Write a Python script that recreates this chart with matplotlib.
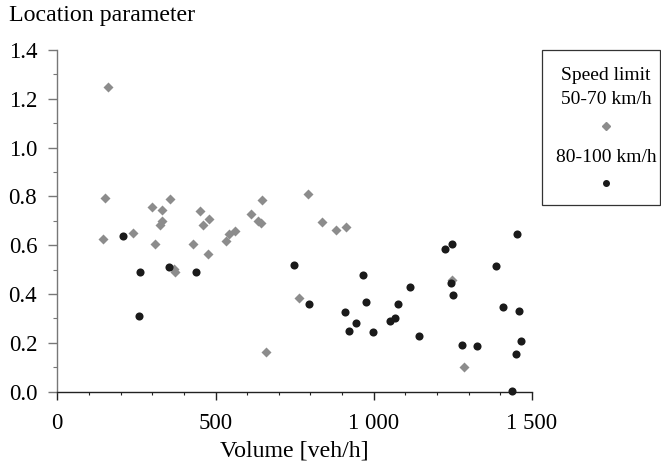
import matplotlib
matplotlib.use("Agg")
import matplotlib.pyplot as plt
from matplotlib.patches import Rectangle
from matplotlib.lines import Line2D
from matplotlib.ticker import MultipleLocator, FixedLocator

plt.rcParams['font.family'] = ['Liberation Serif', 'DejaVu Serif']

# Speed limit 50-70 km/h
vol_50_70 = [160, 150, 143, 238, 298, 310, 324, 330, 332, 356, 368, 371, 428, 450,
             459, 476, 479, 533, 542, 561, 612, 635, 645, 648, 661, 763, 793, 835,
             882, 913, 1247, 1286]
loc_50_70 = [1.25, 0.795, 0.627, 0.652, 0.758, 0.605, 0.683, 0.70, 0.745, 0.791,
             0.503, 0.491, 0.604, 0.739, 0.682, 0.563, 0.708, 0.619, 0.646, 0.66,
             0.730, 0.698, 0.690, 0.784, 0.161, 0.383, 0.809, 0.697, 0.663, 0.675,
             0.458, 0.10]

# Speed limit 80-100 km/h
vol_80_100 = [208, 257, 262, 353, 439, 747, 794, 909, 923, 943, 966, 977, 998, 1053,
              1066, 1076, 1116, 1143, 1226, 1243, 1247, 1252, 1279, 1325, 1387, 1408,
              1437, 1449, 1454, 1459, 1465]
loc_80_100 = [0.638, 0.310, 0.491, 0.511, 0.491, 0.519, 0.358, 0.328, 0.25, 0.283,
              0.477, 0.369, 0.245, 0.291, 0.301, 0.358, 0.428, 0.23, 0.584, 0.444,
              0.604, 0.395, 0.191, 0.186, 0.515, 0.347, 0.003, 0.153, 0.645, 0.331,
              0.208]

x_ticks = [0, 500, 1000, 1500]
x_tick_labels = ["0", "500", "1 000", "1 500"]
y_ticks = [0.0, 0.2, 0.4, 0.6, 0.8, 1.0, 1.2, 1.4]
y_tick_labels = ["0.0", "0.2", "0.4", "0.6", "0.8", "1.0", "1.2", "1.4"]

gray = "#8c8c8c"
dark = "#1a1a1a"
tick_fs = 16.5
label_fs = 17.2
legend_fs = 14

fig = plt.figure(figsize=(6.61, 4.70), dpi=100)
ax = fig.add_axes([0.0867, 0.1666, 0.718, 0.727])

ax.scatter(vol_50_70, loc_50_70, marker="D", s=26, color=gray, linewidths=0,
           zorder=3, clip_on=False)
ax.scatter(vol_80_100, loc_80_100, marker="o", s=34, color=dark, linewidths=0,
           zorder=4, clip_on=False)

ax.set_xlim(0, 1500)
ax.set_ylim(0, 1.4)

ax.xaxis.set_major_locator(FixedLocator(x_ticks))
ax.set_xticklabels(x_tick_labels)
ax.xaxis.set_minor_locator(MultipleLocator(100))
ax.yaxis.set_major_locator(FixedLocator(y_ticks))
ax.set_yticklabels(y_tick_labels)
ax.yaxis.set_minor_locator(MultipleLocator(0.1))

for s in ("top", "right"):
    ax.spines[s].set_visible(False)
ax.spines["left"].set_color("#777777")
ax.spines["bottom"].set_color("#222222")
ax.spines["left"].set_linewidth(1.0)
ax.spines["bottom"].set_linewidth(1.0)

ax.tick_params(axis="x", which="major", direction="out", length=6, width=1,
               color="#222222", labelsize=tick_fs, pad=9)
ax.tick_params(axis="x", which="minor", direction="out", length=2.5, width=0.8,
               color="#222222")
ax.tick_params(axis="y", which="major", direction="out", length=6.5, width=1,
               color="#777777", labelsize=tick_fs, pad=8)
ax.tick_params(axis="y", which="minor", direction="out", length=3, width=0.8,
               color="#777777")

ax.set_xlabel("Volume [veh/h]", fontsize=label_fs, labelpad=5)
fig.text(9 / 661, 1 - 15 / 470, "Location parameter", fontsize=label_fs,
         ha="left", va="center")

# Legend box drawn in figure coordinates
W, H = 661, 470
def fx(px):
    return px / W
def fy(py):
    return 1 - py / H

fig.patches.append(Rectangle((fx(541.5), fy(205)), fx(660) - fx(541.5), fy(50) - fy(205),
                             transform=fig.transFigure, fill=False,
                             edgecolor="#333333", linewidth=0.9))
cx = fx(606)
fig.text(cx, fy(75), "Speed limit", fontsize=legend_fs, ha="center", va="center")
fig.text(cx, fy(99), "50-70 km/h", fontsize=legend_fs, ha="center", va="center")
fig.lines.append(Line2D([fx(606)], [fy(126)], marker="D", markersize=4.2,
                        color=gray, linestyle="none", transform=fig.transFigure))
fig.text(cx, fy(157), "80-100 km/h", fontsize=legend_fs, ha="center", va="center")
fig.lines.append(Line2D([fx(606)], [fy(183)], marker="o", markersize=4.0,
                        color=dark, linestyle="none", transform=fig.transFigure))

fig.savefig("out.png", dpi=100)
